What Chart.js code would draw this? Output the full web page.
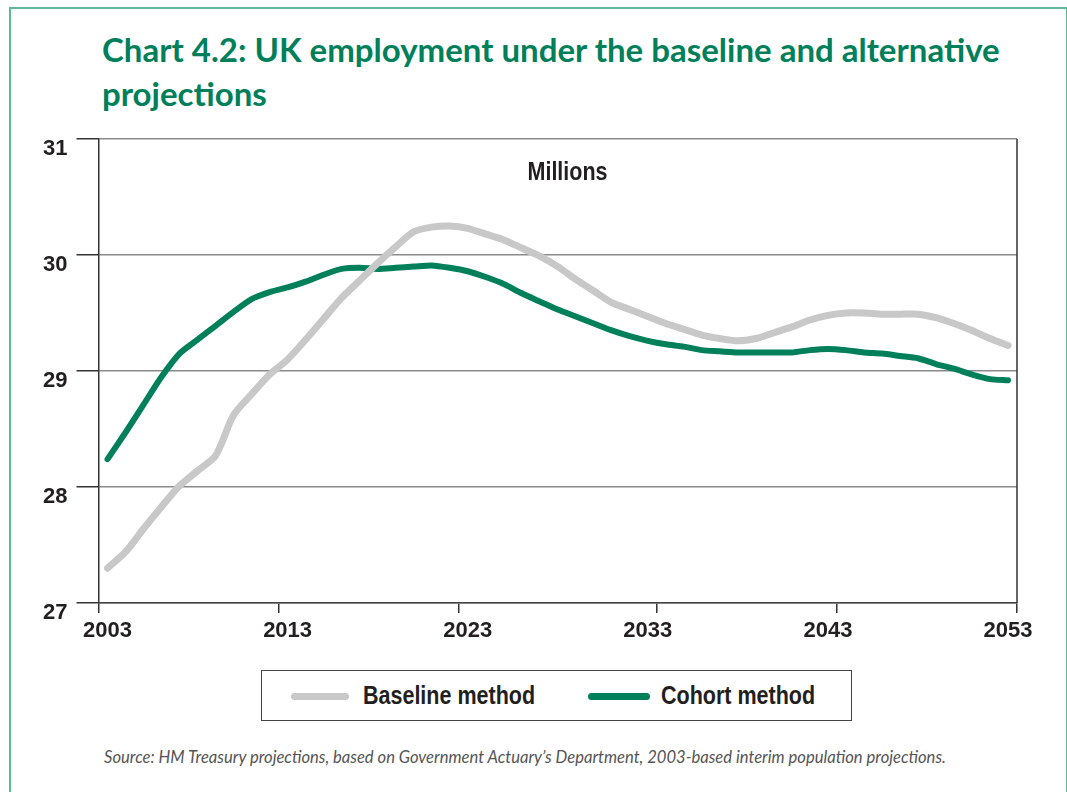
<!DOCTYPE html>
<html>
<head>
<meta charset="utf-8">
<script src="https://cdn.jsdelivr.net/npm/chart.js@4.4.1/dist/chart.umd.min.js"></script>
<style>
  body { margin: 0; background: #fff; width: 1067px; height: 792px; position: relative; overflow: hidden; }
  #frame { position: absolute; left: 9px; top: 7px; width: 1055px; height: 820px; border: 2px solid #5cb896; }
  #title { position: absolute; left: 102px; top: 26.5px; font: 700 33px/44px Lato, sans-serif; color: #00805a; white-space: nowrap; }
  #wrap { position: absolute; left: 0; top: 108.7px; width: 1067px; height: 544px; }
  .cond { display: inline-block; transform: scaleX(0.86); }
  #units { position: absolute; left: 468px; width: 200px; top: 157px; text-align: center; font: 700 25px "Liberation Sans", sans-serif; color: #231f20; }
  #units .cond { transform-origin: center; }
  #legend { position: absolute; left: 261px; top: 670px; width: 589px; height: 49px; border: 1.5px solid #444; font: 700 25px "Liberation Sans", sans-serif; color: #231f20; }
  #legend .sw { position: absolute; top: 22px; height: 7px; border-radius: 4px; }
  #legend .lb { position: absolute; top: 9px; line-height: 30px; transform-origin: left center; }
  #source { position: absolute; left: 104px; top: 747px; font: italic 400 16.6px Lato, sans-serif; color: #555; white-space: nowrap; }
</style>
</head>
<body>
<div id="frame"></div>
<div id="title">Chart 4.2: UK employment under the baseline and alternative<br>projections</div>
<div id="wrap"><canvas id="chart"></canvas></div>
<div id="units"><span class="cond">Millions</span></div>
<div id="legend">
  <div class="sw" style="left:29px;width:58px;background:#c8c8c8"></div>
  <div class="lb cond" style="left:101px">Baseline method</div>
  <div class="sw" style="left:326px;width:62px;background:#00805a"></div>
  <div class="lb cond" style="left:399px">Cohort method</div>
</div>
<div id="source">Source: HM Treasury projections, based on Government Actuary’s Department, 2003-based interim population projections.</div>

<script>
// years on the x axis
const years = [
  "2003", "2004", "2005", "2006", "2007", "2008", "2009", "2010", "2011", "2012",
  "2013", "2014", "2015", "2016", "2017", "2018", "2019", "2020", "2021", "2022",
  "2023", "2024", "2025", "2026", "2027", "2028", "2029", "2030", "2031", "2032",
  "2033", "2034", "2035", "2036", "2037", "2038", "2039", "2040", "2041", "2042",
  "2043", "2044", "2045", "2046", "2047", "2048", "2049", "2050", "2051", "2052",
  "2053",
];
// labelled years
const tickYears = ["2003", "2013", "2023", "2033", "2043", "2053"];
// y axis ticks (millions)
const yTicks = [27, 28, 29, 30, 31];

// UK employment, millions
const baseline = [
  27.30, 27.44, 27.64, 27.83, 28.01, 28.14, 28.27, 28.62, 28.80, 28.97,
  29.10, 29.27, 29.45, 29.63, 29.78, 29.93, 30.07, 30.20, 30.24, 30.25,
  30.23, 30.18, 30.13, 30.06, 29.99, 29.90, 29.79, 29.69, 29.59, 29.53,
  29.47, 29.41, 29.36, 29.31, 29.28, 29.26, 29.28, 29.33, 29.38, 29.44,
  29.48, 29.50, 29.50, 29.49, 29.49, 29.49, 29.46, 29.41, 29.35, 29.28,
  29.22,
];
const cohort = [
  28.24, 28.47, 28.71, 28.95, 29.15, 29.27, 29.39, 29.51, 29.62, 29.68,
  29.72, 29.77, 29.83, 29.88, 29.89, 29.88, 29.89, 29.90, 29.91, 29.89,
  29.86, 29.81, 29.75, 29.67, 29.60, 29.53, 29.47, 29.41, 29.35, 29.30,
  29.26, 29.23, 29.21, 29.18, 29.17, 29.16, 29.16, 29.16, 29.16, 29.18,
  29.19, 29.18, 29.16, 29.15, 29.13, 29.11, 29.06, 29.02, 28.97, 28.93,
  28.92,
];

// tick marks under the x axis (category boundaries)
const xTickMarks = [0, 10, 20, 31, 41];

const green = "#00805a";
const grey = "#c8c8c8";
const labelFont = { family: "Liberation Sans", weight: "bold", size: 22 };

// right-hand border of the plot area
const plotFrame = {
  id: "plotFrame",
  beforeDatasetsDraw(chart) {
    const { ctx, chartArea } = chart;
    ctx.save();
    ctx.strokeStyle = "#333";
    ctx.lineWidth = 1.5;
    ctx.beginPath();
    ctx.moveTo(chartArea.right, chartArea.top);
    ctx.lineTo(chartArea.right, chartArea.bottom);
    ctx.stroke();
    ctx.restore();
  },
};

const ctx = document.getElementById("chart").getContext("2d");
new Chart(ctx, {
  type: "line",
  data: {
    labels: years,
    datasets: [
      {
        label: "Baseline method",
        data: baseline,
        borderColor: grey,
        borderWidth: 7,
        pointRadius: 0,
        tension: 0.25,
        borderCapStyle: "round",
        borderJoinStyle: "round",
      },
      {
        label: "Cohort method",
        data: cohort,
        borderColor: green,
        borderWidth: 6,
        pointRadius: 0,
        tension: 0.25,
        borderCapStyle: "round",
        borderJoinStyle: "round",
      },
    ],
  },
  options: {
    responsive: true,
    maintainAspectRatio: false,
    animation: false,
    layout: { padding: { top: 30, right: 50, left: 0, bottom: 0 } },
    plugins: {
      legend: { display: false },
      tooltip: { enabled: false },
    },
    scales: {
      x: {
        type: "category",
        offset: true,
        afterFit: (s) => { s.height = 50; },
        border: { color: "#444", width: 1.5 },
        grid: {
          offset: true,
          drawOnChartArea: false,
          tickLength: 10,
          lineWidth: 1.5,
          color: (c) =>
            c.index === undefined || xTickMarks.includes(c.index) ? "#333" : "rgba(0,0,0,0)",
        },
        ticks: {
          autoSkip: false,
          maxRotation: 0,
          padding: 5,
          color: "#231f20",
          font: labelFont,
          callback: function (value, index) {
            const y = years[index];
            return tickYears.includes(y) ? y : "";
          },
        },
      },
      y: {
        min: 27,
        max: 31,
        afterFit: (s) => { s.width = 98.5; },
        afterBuildTicks: (s) => { s.ticks = yTicks.map((v) => ({ value: v })); },
        border: { color: "#333", width: 1.5 },
        grid: {
          color: "#8a8a8a",
          lineWidth: 1.5,
          tickLength: 22,
          tickColor: "#333",
        },
        ticks: {
          padding: 9,
          labelOffset: 10,
          color: "#231f20",
          font: labelFont,
        },
      },
    },
  },
  plugins: [plotFrame],
});
</script>
</body>
</html>
